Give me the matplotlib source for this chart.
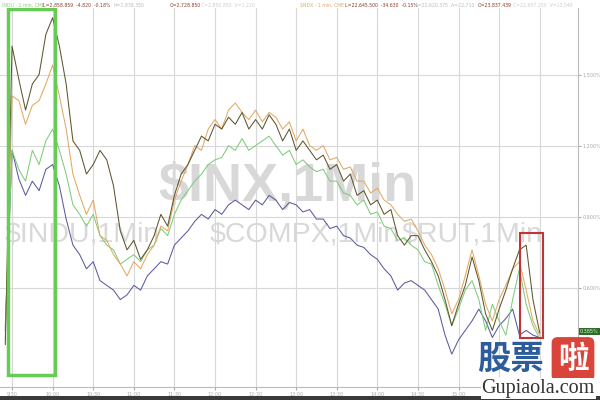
import matplotlib.pyplot as plt
from matplotlib.patches import Rectangle

# minutes after 9:30, one point every 5 minutes
minutes = list(range(-5, 395, 5))

# percent change of each index
inx = [0.36, 1.62, 1.48, 1.35, 1.46, 1.50, 1.67, 1.74, 1.62, 1.46,
       1.22, 1.18, 1.08, 1.12, 1.18, 1.14, 1.03, 0.84, 0.76, 0.80,
       0.72, 0.76, 0.82, 0.91, 0.86, 0.99, 1.08, 1.12, 1.18, 1.24,
       1.22, 1.29, 1.27, 1.32, 1.29, 1.34, 1.27, 1.31, 1.27, 1.33,
       1.29, 1.22, 1.27, 1.18, 1.22, 1.18, 1.14, 1.16, 1.10, 1.12,
       1.05, 1.08, 0.99, 1.01, 0.95, 0.97, 0.91, 0.93, 0.82, 0.78,
       0.82, 0.82, 0.76, 0.71, 0.65, 0.55, 0.44, 0.53, 0.61, 0.73,
       0.63, 0.49, 0.42, 0.51, 0.59, 0.68, 0.76, 0.78, 0.55, 0.41]
compx = [0.38, 1.41, 1.39, 1.29, 1.37, 1.39, 1.46, 1.54, 1.41, 1.27,
         1.08, 0.99, 0.91, 0.97, 0.82, 0.80, 0.74, 0.70, 0.65, 0.71,
         0.68, 0.74, 0.78, 0.86, 0.84, 0.97, 1.05, 1.12, 1.20, 1.18,
         1.27, 1.31, 1.27, 1.35, 1.38, 1.34, 1.31, 1.35, 1.30, 1.34,
         1.32, 1.27, 1.30, 1.22, 1.27, 1.20, 1.18, 1.20, 1.14, 1.15,
         1.10, 1.11, 1.05, 1.05, 1.00, 1.02, 0.97, 0.95, 0.91, 0.88,
         0.89, 0.84, 0.78, 0.74, 0.68, 0.59, 0.49, 0.55, 0.65, 0.76,
         0.65, 0.53, 0.46, 0.55, 0.61, 0.68, 0.71, 0.59, 0.46, 0.40]
rut = [0.44, 1.18, 1.10, 1.05, 1.18, 1.12, 1.22, 1.27, 1.18, 1.08,
       0.95, 0.91, 0.86, 0.91, 0.82, 0.78, 0.76, 0.70, 0.72, 0.74,
       0.71, 0.76, 0.78, 0.85, 0.82, 0.91, 0.97, 1.01, 1.05, 1.08,
       1.12, 1.14, 1.15, 1.20, 1.18, 1.23, 1.18, 1.20, 1.22, 1.24,
       1.20, 1.16, 1.18, 1.12, 1.14, 1.11, 1.09, 1.10, 1.05, 1.05,
       1.00, 0.99, 0.95, 0.97, 0.91, 0.92, 0.86, 0.85, 0.80, 0.81,
       0.78, 0.76, 0.71, 0.70, 0.61, 0.53, 0.44, 0.51, 0.59, 0.63,
       0.55, 0.42, 0.53, 0.46, 0.40, 0.55, 0.68, 0.53, 0.44, 0.385]
indu = [0.42, 1.18, 1.06, 0.99, 1.05, 1.01, 1.10, 1.12, 1.03, 0.89,
        0.78, 0.74, 0.68, 0.71, 0.63, 0.61, 0.59, 0.55, 0.57, 0.61,
        0.59, 0.65, 0.68, 0.71, 0.70, 0.78, 0.81, 0.84, 0.88, 0.91,
        0.89, 0.93, 0.91, 0.95, 0.97, 0.95, 0.93, 0.97, 0.95, 0.99,
        0.97, 0.93, 0.96, 0.95, 0.92, 0.93, 0.89, 0.89, 0.85, 0.86,
        0.82, 0.81, 0.78, 0.77, 0.74, 0.72, 0.68, 0.65, 0.59, 0.62,
        0.63, 0.61, 0.59, 0.55, 0.51, 0.40, 0.32, 0.38, 0.42, 0.46,
        0.51, 0.46, 0.39, 0.44, 0.47, 0.51, 0.40, 0.42, 0.40, 0.39]

time_ticks = list(range(0, 391, 30))
# the last two labels sit under the site logo
time_labels = ["9:30", "10:00", "10:30", "11:00", "11:30", "12:00", "12:30",
               "13:00", "13:30", "14:00", "14:30", "15:00", "", ""]
pct_ticks = [0.6, 0.9, 1.2, 1.5]
last_label = "0.385%"

fig = plt.figure(figsize=(6, 4), dpi=100)
ax = fig.add_axes([0, 13 / 400, 578 / 600, 379 / 400])

ax.plot(minutes, indu, color="#5a5aa0", lw=0.75)
ax.plot(minutes, rut, color="#7fcc7a", lw=0.75)
ax.plot(minutes, compx, color="#e3a862", lw=0.75)
ax.plot(minutes, inx, color="#5e5530", lw=0.75)

ax.set_xlim(-8.9, 418.3)
ax.set_ylim(0.181, 1.781)

ax.set_xticks(time_ticks)
ax.set_xticklabels(time_labels)
ax.set_yticks(pct_ticks)
ax.set_yticklabels(["%.3f%%" % v for v in pct_ticks])
ax.yaxis.tick_right()
ax.tick_params(axis="both", labelsize=3.5, colors="#aaaaaa", length=2, pad=1.5)
ax.grid(True, color="#d8d8d8", lw=0.8)
for side in ["top", "left"]:
    ax.spines[side].set_visible(False)
for side in ["bottom", "right"]:
    ax.spines[side].set_color("#bbbbbb")

# watermarks
wm = dict(transform=ax.transAxes, va="baseline", color="#d8d8d8", zorder=0,
          family=["Liberation Sans", "DejaVu Sans"])
ax.text(0.498, 0.493, "$INX,1Min", ha="center", fontsize=39, fontweight="bold", **wm)
ax.text(5 / 578, 0.385, "$INDU,1Min", ha="left", fontsize=20.5, **wm)
ax.text(210 / 578, 0.385, "$COMPX,1Min", ha="left", fontsize=20.5, **wm)
ax.text(402 / 578, 0.385, "$RUT,1Min", ha="left", fontsize=20.5, **wm)

# highlight boxes
ax.add_patch(Rectangle((-3, 0.232), 35, 1.545, fill=False, ec="#66cc55", lw=2.5, zorder=5))
ax.add_patch(Rectangle((375.5, 0.388), 17, 0.443, fill=False, ec="#c03535", lw=1.5, zorder=5))

# last value tag
ax.text(1.003, rut[-1] + 0.03, last_label, transform=ax.get_yaxis_transform(), fontsize=3.5,
        color="#d8f5d0", va="center", ha="left", zorder=10,
        bbox=dict(boxstyle="square,pad=0.25", fc="#2f6a2a", ec="none"))

# header line
hdr = [(0.004, "INDU - 1 min. CME", "#88cc77"),
       (0.072, "L=2,858.859  -4.820  -0.18%", "#8a3a2a"),
       (0.19, "H=2,838.350", "#bbbbbb"),
       (0.283, "O=2,728.850", "#8a3a2a"),
       (0.335, "C=2,850.850  V=1,220", "#cccccc"),
       (0.5, "$NDX - 1 min. CME", "#e3a862"),
       (0.575, "L=22,645.500  -34.630  -0.15%", "#8a3a2a"),
       (0.69, "H=22,620.375  A=22,710", "#bbbbbb"),
       (0.797, "O=23,837.439", "#8a3a2a"),
       (0.855, "C=22,657.250  V=13,040", "#cccccc")]
for x, s, c in hdr:
    fig.text(x, 0.993, s, fontsize=3.3, color=c, va="top")

# bottom bar
fig.patches.append(Rectangle((0, 0), 1, 4 / 400, transform=fig.transFigure,
                             fc="#3a3a3a", ec="none"))

# site logo
cjk = ["Noto Sans CJK SC", "DejaVu Sans"]
fig.text(0.795, 0.102, "股票", fontsize=24, fontweight="bold", color="#2d5c9c",
         family=cjk, va="center", ha="left")
fig.text(0.955, 0.102, "啦", fontsize=22, fontweight="bold", color="white",
         family=cjk, va="center", ha="center",
         bbox=dict(boxstyle="round,pad=0.2", fc="#d9453b", ec="none"))
fig.text(0.897, 0.028, "Gupiaola.com", fontsize=14.5, color="#333333",
         family=["Liberation Serif", "DejaVu Serif"], va="center", ha="center",
         bbox=dict(boxstyle="square,pad=0.05", fc="white", ec="none"))

fig.savefig("out.png", dpi=100)
